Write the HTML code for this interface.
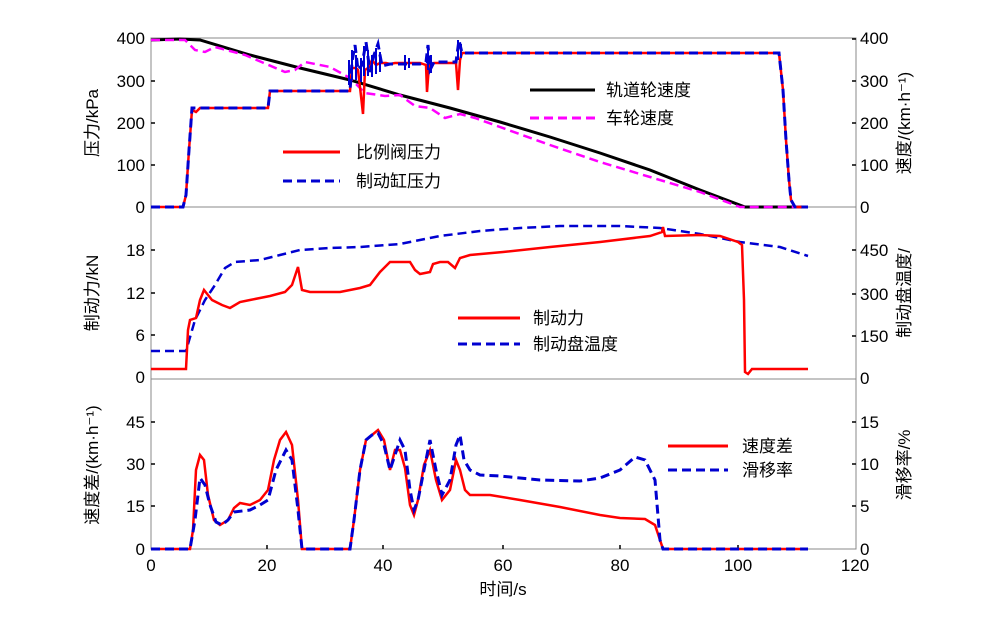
<!DOCTYPE html>
<html><head><meta charset="utf-8"><style>
body{margin:0;background:#fff}
svg{display:block}
text{font-family:"Liberation Sans","Noto Sans CJK SC",sans-serif;font-size:17px;fill:#000}
.l{font-size:17px}
</style></head><body>
<svg width="1000" height="617" viewBox="0 0 1000 617">
<g fill="none" stroke="#888" stroke-width="1">
<rect x="151" y="38" width="705" height="169"/>
<rect x="151" y="207" width="705" height="172"/>
<rect x="151" y="379" width="705" height="170"/>
</g>
<g stroke="#000" stroke-width="1.5">
<path d="M151 165h4M151 123h4M151 81h4M852 165h4M852 123h4M852 81h4M852 39h4M151 250h4M151 293h4M151 335h4M852 250h4M852 294h4M852 336h4M151 422h4M151 464h4M151 506h4M852 422h4M852 464h4M852 506h4M267 549v-4M383 549v-4M503 549v-4M620 549v-4M738 549v-4"/>
</g>
<g text-anchor="end">
<text x="145" y="44">400</text><text x="145" y="87">300</text><text x="145" y="129">200</text><text x="145" y="171">100</text><text x="145" y="213">0</text>
<text x="145" y="256">18</text><text x="145" y="299">12</text><text x="145" y="341">6</text><text x="145" y="383">0</text>
<text x="145" y="428">45</text><text x="145" y="470">30</text><text x="145" y="512">15</text><text x="145" y="555">0</text>
</g>
<g>
<text x="860" y="44">400</text><text x="860" y="87">300</text><text x="860" y="129">200</text><text x="860" y="171">100</text><text x="860" y="213">0</text>
<text x="860" y="256">450</text><text x="860" y="300">300</text><text x="860" y="342">150</text><text x="860" y="384">0</text>
<text x="860" y="428">15</text><text x="860" y="470">10</text><text x="860" y="512">5</text><text x="860" y="555">0</text>
</g>
<g text-anchor="middle">
<text x="151" y="571">0</text><text x="267" y="571">20</text><text x="383" y="571">40</text><text x="503" y="571">60</text><text x="620" y="571">80</text><text x="738" y="571">100</text><text x="855" y="571">120</text>
<text x="503" y="595" class="l">时间/s</text>
<text class="l" transform="translate(98,123) rotate(-90)">压力/kPa</text>
<text class="l" transform="translate(98,293) rotate(-90)">制动力/kN</text>
<text class="l" transform="translate(98,465) rotate(-90)">速度差/(km·h⁻¹)</text>
<text class="l" transform="translate(910,123) rotate(-90)">速度/(km·h⁻¹)</text>
<text class="l" transform="translate(910,293) rotate(-90)">制动盘温度/</text>
<text class="l" transform="translate(910,465) rotate(-90)">滑移率/%</text>
</g>
<!-- top panel -->
<polyline fill="none" stroke="#000" stroke-width="3" points="151,40 180,39 200,40 250,55 300,68 350,80 400,95 450,108 500,122 550,137 600,153 650,170 700,190 745,207 808,207"/>
<polyline fill="none" stroke="#f0f" stroke-width="2.5" stroke-dasharray="9,5" points="151,40 185,40 195,50 205,52 215,47 245,55 285,72 295,70 305,62 330,67 350,78 365,93 385,96 400,95 415,106 430,108 445,118 460,114 475,118 500,127 550,145 600,162 650,177 700,192 740,207 808,207"/>
<polyline fill="none" stroke="#f00" stroke-width="2.5" points="151,207 183,207 186,195 189,150 192,110 196,112 200,108 268,108 270,91 350,91 352,68 356,68 358,70 360,87 363,114 365,70 368,68 372,60 376,65 380,63 386,63 390,64 395,63 420,63 426,65 427,92 429,65 434,63 456,63 458,90 460,60 462,53 779,53 783,90 786,140 789,180 791,200 795,207 808,207"/>
<polyline fill="none" stroke="#0000d0" stroke-width="3" stroke-dasharray="9,5" points="151,207 183,207 186,195 189,150 192,108 268,108 270,91 350,91 352,62 355,45 358,70 362,65 366,42 370,72 374,55 378,44 382,66 390,64 420,64 426,62 428,45 430,70 434,62 456,62 459,40 462,53 779,53 783,90 786,140 789,180 791,200 795,207 808,207"/>
<g stroke="#0000d0" stroke-width="2"><path d="M349 60v25M352 50v30M356 55v25M361 58v24M364 46v30M368 50v26M372 55v22M376 48v26M380 52v20M405 55v15M409 58v10M428 45v25M431 55v18M458 40v20M461 44v14"/></g>
<line x1="283" y1="152" x2="340" y2="152" stroke="#f00" stroke-width="3"/>
<text x="356" y="158" class="l">比例阀压力</text>
<line x1="283" y1="181" x2="340" y2="181" stroke="#0000d0" stroke-width="3" stroke-dasharray="9,5"/>
<text x="356" y="187" class="l">制动缸压力</text>
<line x1="530" y1="90" x2="595" y2="90" stroke="#000" stroke-width="3"/>
<text x="606" y="96" class="l">轨道轮速度</text>
<line x1="530" y1="118" x2="595" y2="118" stroke="#f0f" stroke-width="3" stroke-dasharray="9,5"/>
<text x="606" y="124" class="l">车轮速度</text>
<!-- middle panel -->
<polyline fill="none" stroke="#0000d0" stroke-width="2.5" stroke-dasharray="9,5" points="151,351 186,351 195,320 205,300 215,285 225,268 235,262 260,260 280,255 300,250 330,248 360,247 400,244 440,236 480,231 520,228 560,226 620,226 660,228 700,234 740,242 780,247 808,256"/>
<polyline fill="none" stroke="#f00" stroke-width="2.5" points="151,369 186,369 188,330 190,320 196,318 200,300 204,290 208,295 212,300 216,302 222,305 230,308 240,302 250,300 260,298 270,296 285,292 292,285 298,267 302,290 310,292 340,292 350,290 360,288 370,285 380,272 390,262 400,262 410,262 415,270 420,274 430,272 433,264 440,262 448,262 455,268 460,258 470,255 503,252 550,247 600,242 650,236 662,232 663,227 665,236 700,235 720,236 738,242 742,245 744,300 745,372 748,374 752,369 808,369"/>
<line x1="458" y1="318" x2="520" y2="318" stroke="#f00" stroke-width="3"/>
<text x="533" y="324" class="l">制动力</text>
<line x1="458" y1="344" x2="520" y2="344" stroke="#0000d0" stroke-width="3" stroke-dasharray="9,5"/>
<text x="533" y="350" class="l">制动盘温度</text>
<!-- bottom panel -->
<polyline fill="none" stroke="#f00" stroke-width="2.5" points="151,549 190,549 193,530 196,470 200,455 204,460 208,495 214,520 220,525 228,520 234,508 240,503 250,505 260,500 268,490 274,460 280,440 286,432 292,445 298,500 302,549 350,549 354,520 360,470 366,440 372,435 378,430 384,440 390,470 395,450 400,450 405,468 410,505 414,515 418,500 424,465 430,450 436,480 442,500 450,490 456,460 460,470 465,490 470,495 490,495 520,500 560,507 600,515 620,518 645,519 655,525 660,540 663,549 808,549"/>
<polyline fill="none" stroke="#0000d0" stroke-width="3" stroke-dasharray="9,5" points="151,549 190,549 195,520 200,478 205,485 210,505 216,522 222,525 228,520 234,512 250,510 260,505 268,500 276,470 286,450 292,460 298,510 302,549 350,549 354,520 360,470 366,440 372,435 378,433 384,445 390,470 395,455 400,440 405,450 410,490 414,510 418,500 424,470 430,440 436,470 442,495 450,480 456,445 460,435 464,460 470,470 480,475 500,476 540,480 580,481 600,478 620,470 635,457 645,460 655,480 660,540 663,549 808,549"/>
<line x1="668" y1="446" x2="728" y2="446" stroke="#f00" stroke-width="3"/>
<text x="742" y="452" class="l">速度差</text>
<line x1="668" y1="470" x2="728" y2="470" stroke="#0000d0" stroke-width="3" stroke-dasharray="9,5"/>
<text x="742" y="476" class="l">滑移率</text>
</svg>
</body></html>
